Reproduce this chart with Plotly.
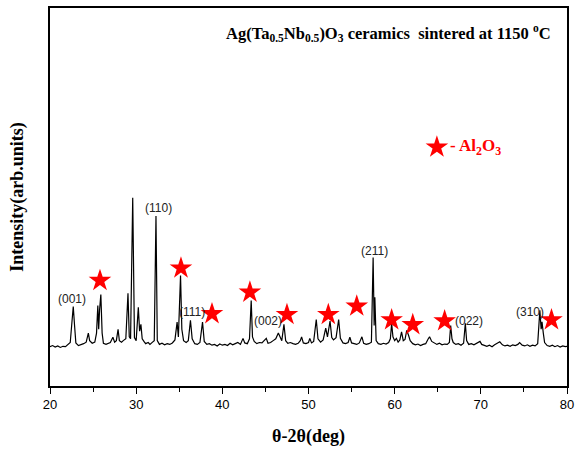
import plotly.graph_objects as go

# XRD pattern (2theta in deg, intensity in arb. units)
two_theta = [
    20.0, 20.3, 20.6, 20.9, 21.2, 21.5, 21.8, 22.1, 22.35, 22.55, 22.7, 22.85, 23.0, 23.3, 23.6, 23.9,
    24.2, 24.45, 24.6, 24.9, 25.2, 25.4, 25.55, 25.65, 25.75, 25.9, 26.05, 26.2, 26.5, 26.8, 27.0, 27.3,
    27.5, 27.7, 27.9, 28.05, 28.3, 28.5, 28.8, 29.05, 29.2, 29.35, 29.6, 29.8, 30.0, 30.25, 30.4, 30.55,
    30.7, 30.9, 31.1, 31.4, 31.6, 31.9, 32.1, 32.3, 32.45, 32.7, 33.0, 33.3, 33.6, 33.9, 34.2, 34.5,
    34.75, 34.9, 35.15, 35.3, 35.5, 35.8, 36.05, 36.3, 36.5, 36.8, 37.1, 37.4, 37.7, 37.9, 38.2, 38.5,
    38.8, 39.1, 39.4, 39.7, 40.0, 40.3, 40.6, 40.9, 41.2, 41.5, 41.8, 42.1, 42.4, 42.6, 42.9, 43.15,
    43.35, 43.5, 43.7, 44.0, 44.3, 44.6, 44.9, 45.1, 45.3, 45.6, 45.9, 46.2, 46.5, 46.7, 46.9, 47.15,
    47.35, 47.6, 47.9, 48.2, 48.5, 48.8, 49.05, 49.2, 49.4, 49.7, 50.0, 50.15, 50.35, 50.6, 50.9, 51.1,
    51.4, 51.7, 52.0, 52.2, 52.5, 52.7, 52.9, 53.2, 53.5, 53.7, 54.0, 54.3, 54.6, 54.8, 55.0, 55.3,
    55.6, 55.9, 56.2, 56.4, 56.7, 57.0, 57.3, 57.5, 57.62, 57.7, 57.85, 58.1, 58.4, 58.7, 59.0, 59.3,
    59.5, 59.65, 59.8, 60.0, 60.2, 60.4, 60.6, 60.8, 61.0, 61.2, 61.4, 61.6, 61.8, 62.1, 62.4, 62.7,
    63.0, 63.3, 63.6, 63.9, 64.05, 64.3, 64.6, 64.9, 65.2, 65.5, 65.8, 66.1, 66.35, 66.5, 66.65, 66.8,
    67.1, 67.4, 67.7, 68.0, 68.2, 68.35, 68.6, 68.9, 69.2, 69.5, 69.9, 70.1, 70.4, 70.7, 71.0, 71.3,
    71.6, 71.9, 72.2, 72.5, 72.8, 73.1, 73.4, 73.7, 74.0, 74.3, 74.5, 74.8, 75.1, 75.4, 75.7, 76.0,
    76.3, 76.6, 76.85, 77.0, 77.1, 77.25, 77.4, 77.7, 78.0, 78.3, 78.6, 78.9, 79.2, 79.5, 79.8, 80.0,
]
intensity = [
    10.4, 10.7, 10.3, 10.6, 10.2, 10.5, 10.4, 10.9, 11.5, 17.0, 21.0, 16.0, 11.4, 10.7, 10.9, 11.2,
    11.6, 14.0, 12.0, 11.3, 11.6, 14.0, 21.3, 15.0, 20.0, 24.2, 14.0, 11.3, 11.0, 11.2, 11.5, 12.9,
    11.6, 12.0, 15.0, 12.0, 11.6, 12.0, 12.5, 24.5, 13.0, 12.5, 49.8, 12.8, 12.0, 20.8, 14.5, 16.3,
    12.5, 11.8, 11.2, 11.5, 11.0, 11.6, 12.0, 45.0, 12.0, 11.0, 11.3, 10.9, 11.2, 11.0, 11.4, 12.2,
    16.9, 13.0, 29.2, 15.0, 12.0, 11.5, 12.0, 17.4, 12.5, 11.2, 11.0, 11.5, 16.9, 11.8, 11.0, 11.2,
    10.8, 11.0, 10.6, 11.1, 10.8, 11.0, 10.7, 11.3, 10.9, 11.2, 11.5, 11.0, 12.6, 11.4, 11.2, 12.5,
    22.6, 13.0, 11.8, 11.2, 11.5, 11.4, 12.0, 12.6, 11.3, 11.5, 12.0, 12.5, 14.0, 12.8, 12.0, 16.3,
    12.0, 11.3, 11.5, 11.2, 11.0, 11.3, 12.0, 13.0, 11.4, 11.2, 11.5, 12.6, 11.4, 11.8, 17.6, 12.5,
    11.6, 12.2, 15.3, 13.0, 17.2, 12.8, 12.2, 12.8, 17.6, 12.6, 11.4, 11.2, 11.5, 12.9, 11.4, 11.2,
    11.0, 11.4, 13.0, 11.3, 11.0, 11.2, 11.6, 34.0, 16.0, 23.5, 12.0, 11.2, 11.0, 11.3, 11.1, 11.5,
    12.5, 16.5, 13.0, 12.0, 12.6, 11.6, 12.2, 14.3, 12.0, 12.3, 14.7, 13.5, 12.0, 11.2, 10.9, 11.1,
    10.7, 11.0, 11.2, 12.5, 13.0, 11.8, 11.4, 11.0, 11.3, 10.9, 11.1, 11.0, 11.5, 16.0, 12.5, 11.5,
    11.0, 11.2, 10.8, 11.3, 16.6, 12.0, 11.0, 11.2, 10.9, 11.3, 11.8, 11.0, 10.8, 10.5, 10.8, 10.4,
    10.9, 11.2, 11.7, 10.9, 10.6, 10.8, 10.5, 10.9, 10.7, 11.0, 11.5, 10.8, 10.6, 10.9, 10.5, 10.8,
    10.6, 11.2, 20.0, 15.0, 17.0, 14.0, 11.5, 10.7, 10.5, 10.8, 10.4, 10.7, 10.3, 10.6, 10.4, 10.5,
]

# Al2O3 star markers
star_x = [25.8, 35.2, 38.8, 43.2, 47.5, 52.3, 55.6, 59.65, 62.1, 65.8, 78.2]
star_y = [27.9, 31.2, 19.1, 24.8, 18.9, 18.9, 21.1, 17.5, 16.2, 17.2, 17.5]

# Miller index labels
hkl_text = ["(001)", "(110)", "(111)", "(002)", "(211)", "(022)", "(310)"]
hkl_x = [22.6, 32.55, 36.5, 45.3, 57.7, 68.6, 75.7]
hkl_y = [23.0, 47.1, 19.6, 17.3, 35.6, 17.3, 19.6]

legend_star_x = [64.9]
legend_star_y = [63.2]

fig = go.Figure()
fig.add_trace(go.Scatter(x=two_theta, y=intensity, mode="lines",
                         line=dict(color="black", width=1.2), showlegend=False,
                         hoverinfo="skip"))
fig.add_trace(go.Scatter(x=star_x, y=star_y, mode="markers",
                         marker=dict(symbol="star", size=17, color="#ff0000",
                                     line=dict(width=0)), showlegend=False))
fig.add_trace(go.Scatter(x=legend_star_x, y=legend_star_y, mode="markers",
                         marker=dict(symbol="star", size=17, color="#ff0000",
                                     line=dict(width=0)), showlegend=False))

annotations = []
for t, x, y in zip(hkl_text, hkl_x, hkl_y):
    annotations.append(dict(x=x, y=y, xref="x", yref="y", text=t, showarrow=False,
                            font=dict(family="Liberation Sans, Arial", size=12, color="#222")))

annotations.append(dict(x=66.2, y=legend_star_y[0], xref="x", yref="y", xanchor="left",
                        text="<b>- Al<sub>2</sub>O<sub>3</sub></b>", showarrow=False,
                        font=dict(family="Liberation Serif, Times New Roman", size=17, color="#ff0000")))

annotations.append(dict(x=0.655, y=0.967, xref="paper", yref="paper",
                        text="<b>Ag(Ta<sub>0.5</sub>Nb<sub>0.5</sub>)O<sub>3</sub> ceramics  sintered at 1150 <sup>o</sup>C</b>",
                        showarrow=False,
                        font=dict(family="Liberation Serif, Times New Roman", size=16.5, color="black")))

fig.update_layout(
    width=583, height=455,
    margin=dict(l=50, r=16, t=6, b=69),
    paper_bgcolor="white", plot_bgcolor="white",
    showlegend=False,
    annotations=annotations,
    xaxis=dict(range=[20, 80], dtick=10, tick0=20, ticks="outside", ticklen=6, tickwidth=1.2,
               tickcolor="black", showline=True, linecolor="black", linewidth=1.5, mirror=True,
               showgrid=False, zeroline=False,
               tickfont=dict(family="Liberation Sans, Arial", size=13, color="black"),
               minor=dict(dtick=5, ticks="outside", ticklen=4, tickcolor="black", tickwidth=1.2),
               title=dict(text="<b>θ-2θ(deg)</b>", standoff=18,
                          font=dict(family="Liberation Serif, Times New Roman", size=18, color="black"))),
    yaxis=dict(range=[0, 100], showticklabels=False, ticks="", showline=True, linecolor="black",
               linewidth=1.5, mirror=True, showgrid=False, zeroline=False,
               title=dict(text="<b>Intensity(arb.units)</b>", standoff=20,
                          font=dict(family="Liberation Serif, Times New Roman", size=18, color="black"))),
)

fig.write_html("out.html")
